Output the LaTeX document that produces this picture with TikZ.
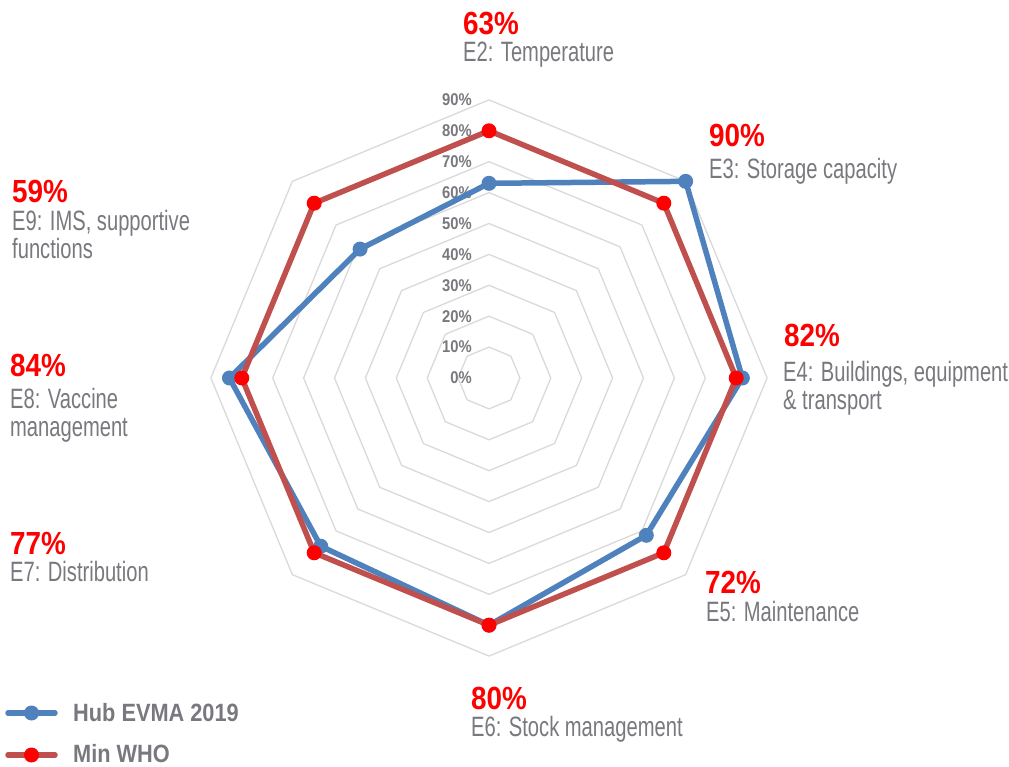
\documentclass[tikz,border=0pt]{standalone}
\usepackage{fontspec}
\setmainfont{Liberation Sans}
\newfontfamily\namefont[FakeStretch=0.72]{Liberation Sans}
\newfontfamily\pctfont[FakeStretch=0.87]{Liberation Sans}
\usepackage{tikz}
\usetikzlibrary{calc}

\definecolor{hubblue}{RGB}{79,129,189}
\definecolor{whored}{RGB}{192,80,77}
\definecolor{dotred}{RGB}{255,0,0}
\definecolor{txtgray}{RGB}{120,120,126}
\definecolor{gridgray}{RGB}{217,217,217}

\tikzset{
	ring/.style={draw=gridgray,line width=1.3pt,line join=round},
	tick/.style={inner sep=0pt,text=txtgray,font=\pctfont\bfseries\fontsize{17}{17}\selectfont},
	pct/.style={inner sep=0pt,anchor=base west,text=dotred,font=\pctfont\bfseries\fontsize{32}{32}\selectfont},
	axname/.style={inner sep=0pt,anchor=base west,align=left,text=txtgray,font=\namefont\fontsize{28}{28}\selectfont},
	legtext/.style={inner sep=0pt,anchor=base west,text=txtgray,font=\pctfont\bfseries\fontsize{25}{25}\selectfont},
	hubline/.style={draw=hubblue,line width=5.5pt,line join=round,line cap=round},
	wholine/.style={draw=whored,line width=5.5pt,line join=round,line cap=round}
}

\begin{document}
\begin{tikzpicture}[x=1pt,y=1pt]
	\useasboundingbox (0,0) rectangle (1009,766);
	\begin{scope}[shift={(489,388)}]
		% octagon grid, 10% to 90%
		\foreach \k in {1,...,9} {
			\pgfmathsetmacro\r{\k*30.9}
			\draw[ring] (90:\r) -- (45:\r) -- (0:\r) -- (-45:\r) -- (-90:\r) -- (-135:\r) -- (180:\r) -- (135:\r) -- cycle;
		}
		% axis labels
		\foreach \k in {0,...,9} {
			\pgfmathtruncatemacro\p{10*\k}
			\node[tick,anchor=east] (t\k) at (-17,{\k*30.9}) {\p\%};
		}
		% data points
		\foreach \n/\a/\v in {2/90/63, 3/45/90, 4/0/82, 5/-45/72, 6/-90/80, 7/-135/77, 8/180/84, 9/135/59} {
			\coordinate (h\n) at (\a:{\v*3.09});
			\coordinate (w\n) at (\a:{80*3.09});
		}
	\end{scope}
	% Hub EVMA 2019
	\draw[hubline] (h2) -- (h3) -- (h4) -- (h5) -- (h6) -- (h7) -- (h8) -- (h9) -- cycle;
	\foreach \n in {2,...,9} {
		\fill[hubblue] (h\n) circle (7.5);
	}
	% Min WHO
	\draw[wholine] (w2) -- (w3) -- (w4) -- (w5) -- (w6) -- (w7) -- (w8) -- (w9) -- cycle;
	\foreach \n in {2,...,9} {
		\fill[dotred] (w\n) circle (7.5);
	}
	% category labels (base = last line)
	\node[pct] (p2) at (463,731) {63\%};
	\node[axname] (n2) at (463,704) {E2: Temperature};
	\node[pct] (p3) at (709,619) {90\%};
	\node[axname] (n3) at (709,587) {E3: Storage capacity};
	\node[pct] (p4) at (784,419) {82\%};
	\node[axname] (n4) at (783,356) {E4: Buildings, equipment\\\& transport};
	\node[pct] (p5) at (705,172) {72\%};
	\node[axname] (n5) at (706,145) {E5: Maintenance};
	\node[pct] (p6) at (471,57) {80\%};
	\node[axname] (n6) at (471,30) {E6: Stock management};
	\node[pct] (p7) at (10,211) {77\%};
	\node[axname] (n7) at (10,184) {E7: Distribution};
	\node[pct] (p8) at (10,389) {84\%};
	\node[axname] (n8) at (10,329) {E8: Vaccine\\management};
	\node[pct] (p9) at (12,563) {59\%};
	\node[axname] (n9) at (12,507) {E9: IMS, supportive\\functions};
	% legend
	\coordinate (lh1) at (8,53);
	\coordinate (lh2) at (55,53);
	\coordinate (lw1) at (8,11);
	\coordinate (lw2) at (55,11);
	\draw[hubline] (lh1) -- (lh2);
	\fill[hubblue] ($(lh1)!0.5!(lh2)$) circle (7.5);
	\node[legtext] (lgh) at (73,45) {Hub EVMA 2019};
	\draw[wholine] (lw1) -- (lw2);
	\fill[dotred] ($(lw1)!0.5!(lw2)$) circle (7.5);
	\node[legtext] (lgw) at (73,4) {Min WHO};
\end{tikzpicture}
\end{document}
